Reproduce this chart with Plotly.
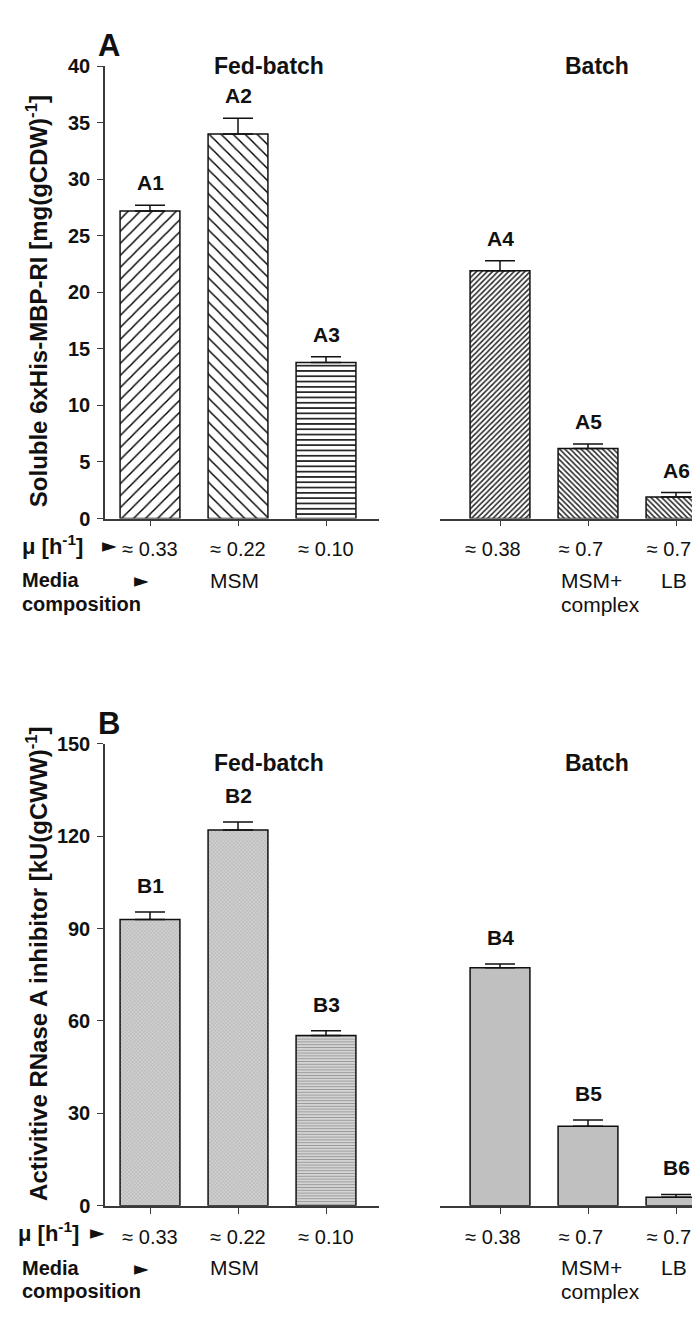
import plotly.graph_objects as go

# ---------------- data ----------------
cat_fed_a = ["A1", "A2", "A3"]
cat_batch_a = ["A4", "A5", "A6"]
cat_fed_b = ["B1", "B2", "B3"]
cat_batch_b = ["B4", "B5", "B6"]

mu_fed = ["≈ 0.33", "≈ 0.22", "≈ 0.10"]
mu_batch = ["≈ 0.38", "≈ 0.7", "≈ 0.7"]

a_fed = [27.2, 34.0, 13.8]
a_fed_err = [0.5, 1.4, 0.5]
a_batch = [21.9, 6.2, 1.9]
a_batch_err = [0.9, 0.4, 0.4]

b_fed = [92.9, 122.0, 55.3]
b_fed_err = [2.5, 2.6, 1.5]
b_batch = [77.3, 25.8, 2.8]
b_batch_err = [1.2, 2.1, 0.9]

a_yticks = [0, 5, 10, 15, 20, 25, 30, 35, 40]
b_yticks = [0, 30, 60, 90, 120, 150]

# ---------------- geometry helpers ----------------
W, H = 700, 1317
def px(x):
    return x / W
def py(y):
    return 1 - y / H

FONT = "Arial, Liberation Sans, sans-serif"
AXC = "#3a3a3a"
xs = [0, 1, 2]

fig = go.Figure()

# per-bar fill styles (shape, size, solidity, fg, bg, fillmode)
style_fed_a = [("/", 8.5, 0.17, "black", "white", "overlay"),
               ("\\", 8.5, 0.17, "black", "white", "overlay"),
               ("-", 5.3, 0.28, "black", "white", "overlay")]
style_batch_a = [("/", 3.8, 0.38, "#222222", "white", "overlay"),
                 ("\\", 3.8, 0.38, "#222222", "white", "overlay"),
                 ("\\", 3.8, 0.38, "#222222", "white", "overlay")]
style_fed_b = [("x", 2.6, 0.22, "#999999", "#d0d0d0", "replace"),
               ("x", 2.6, 0.22, "#999999", "#d0d0d0", "replace"),
               ("-", 2.8, 0.35, "#9a9a9a", "#d4d4d4", "replace")]
style_batch_b = [("", 3, 0.3, "#c0c0c0", "#c0c0c0", "replace")] * 3

def add_bars(xa, ya, vals, errs, styles):
    for i, (v, e, st) in enumerate(zip(vals, errs, styles)):
        shape, size, sol, fg, bg, mode = st
        pat = dict(shape=shape, size=size, solidity=sol, fgcolor=fg, bgcolor=bg,
                   fillmode=mode, fgopacity=1)
        fig.add_trace(go.Bar(
            x=[xs[i]], y=[v], width=0.68, xaxis=xa, yaxis=ya,
            marker=dict(color=bg, line=dict(color="#111111", width=1.5), pattern=pat),
            error_y=dict(type="data", array=[e], arrayminus=[0], symmetric=False,
                         color="#111111", thickness=1.5, width=15),
            showlegend=False, hoverinfo="skip"))

add_bars("x", "y", a_fed, a_fed_err, style_fed_a)
add_bars("x2", "y2", a_batch, a_batch_err, style_batch_a)
add_bars("x3", "y3", b_fed, b_fed_err, style_fed_b)
add_bars("x4", "y4", b_batch, b_batch_err, style_batch_b)

# ---------------- axes ----------------
left_dom = [px(97), px(371)]
right_dom = [px(432), px(700)]
left_rng = [-(142 - 97) / 88, 2 + (371 - 318) / 88]
right_rng = [-(492 - 432) / 88, 2 + (700 - 668) / 88]
a_dom = [py(508), py(48)]
b_dom = [py(1207), py(737)]

def xaxis(dom, rng, anchor, labels, shift):
    return dict(domain=dom, range=rng, anchor=anchor, showline=True, linecolor=AXC,
                linewidth=1.5, ticks="outside", ticklen=6, tickcolor=AXC, tickwidth=1.2,
                tickvals=xs, ticktext=labels, showgrid=False, zeroline=False,
                tickfont=dict(family=FONT, size=20, color="#111"), ticklabelstandoff=6,
                ticklabelshift=shift, fixedrange=True)

def yaxis_vis(dom, rng, ticks, anchor):
    return dict(domain=dom, range=rng, anchor=anchor, showline=True, linecolor=AXC,
                linewidth=1.5, ticks="outside", ticklen=6, tickcolor=AXC, tickwidth=1.2,
                tickvals=ticks, showgrid=False, zeroline=False,
                tickfont=dict(family=FONT, size=20, color="#111", weight="bold"),
                ticklabelstandoff=3)

def yaxis_hid(dom, rng, anchor):
    return dict(domain=dom, range=rng, anchor=anchor, visible=False, showgrid=False,
                zeroline=False)

fig.update_layout(
    width=W, height=H, margin=dict(l=0, r=0, t=0, b=0),
    paper_bgcolor="white", plot_bgcolor="white", barmode="overlay",
    xaxis=xaxis(left_dom, left_rng, "y", mu_fed, 0),
    xaxis2=xaxis(right_dom, right_rng, "y2", mu_batch, -7),
    xaxis3=xaxis(left_dom, left_rng, "y3", mu_fed, 0),
    xaxis4=xaxis(right_dom, right_rng, "y4", mu_batch, -7),
    yaxis=yaxis_vis(a_dom, [0, 40], a_yticks, "x"),
    yaxis2=yaxis_hid(a_dom, [0, 40], "x2"),
    yaxis3=yaxis_vis(b_dom, [0, 150], b_yticks, "x3"),
    yaxis4=yaxis_hid(b_dom, [0, 150], "x4"),
)

# ---------------- annotations ----------------
ann = []
def text(x, y, s, size=21, bold=False, xanchor="center", yanchor="middle", textangle=0,
         family=FONT):
    ann.append(dict(x=x, y=y, xref="paper", yref="paper", text=s, showarrow=False,
                    xanchor=xanchor, yanchor=yanchor, textangle=textangle,
                    font=dict(family=family, size=size, color="#111",
                              weight="bold" if bold else "normal")))

def bar_labels(xa, ya, labels, vals, errs, shift):
    for i, (lab, v, e) in enumerate(zip(labels, vals, errs)):
        ann.append(dict(x=xs[i], y=v + e, xref=xa, yref=ya, text=lab, showarrow=False,
                        yanchor="bottom", yshift=shift,
                        font=dict(family=FONT, size=21, color="#111", weight="bold")))

bar_labels("x", "y", cat_fed_a, a_fed, a_fed_err, 9)
bar_labels("x2", "y2", cat_batch_a, a_batch, a_batch_err, 9)
bar_labels("x3", "y3", cat_fed_b, b_fed, b_fed_err, 13)
bar_labels("x4", "y4", cat_batch_b, b_batch, b_batch_err, 13)

for base, top, letter, title, title_y, fb_y, arrow_x, mu_x in [
        (508, 48, "A", "Soluble 6xHis-MBP-RI [mg(gCDW)<sup>-1</sup>]", 287, 48, 101, 12),
        (1207, 737, "B", "Activitive RNase A inhibitor [kU(gCWW)<sup>-1</sup>]", 961, 757, 90, 8)]:
    text(px(88), py(top - 21), letter, size=31, bold=True, xanchor="left")
    text(px(261), py(fb_y), "Fed-batch", size=23, bold=True)
    text(px(589), py(fb_y), "Batch", size=23, bold=True)
    text(px(29), py(title_y), title, size=24, bold=True, textangle=-90)
    text(px(mu_x), py(base + 27), "μ [h<sup>-1</sup>]", size=22, bold=True, xanchor="left")
    text(px(arrow_x), py(base + 27), "►", size=19, family="DejaVu Sans")
    text(px(12), py(base + 63), "Media", size=20, bold=True, xanchor="left")
    text(px(133), py(base + 63), "►", size=19, family="DejaVu Sans")
    text(px(12), py(base + 87), "composition", size=20, bold=True, xanchor="left")
    text(px(226), py(base + 63), "MSM", size=21)
    text(px(551), py(base + 63), "MSM+", size=21, xanchor="left")
    text(px(551), py(base + 87), "complex", size=21, xanchor="left")
    text(px(651), py(base + 63), "LB", size=21, xanchor="left")

fig.update_layout(annotations=ann)
fig.write_html("out.html")
